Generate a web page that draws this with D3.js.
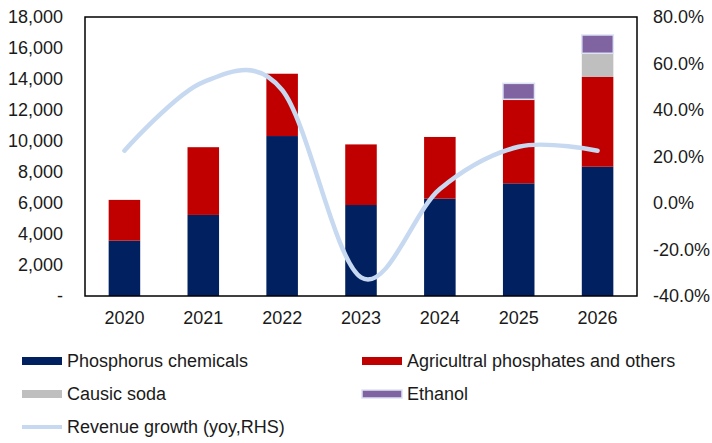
<!DOCTYPE html>
<html>
<head>
<meta charset="utf-8">
<script src="https://cdn.jsdelivr.net/npm/d3@7"></script>
<style>
  body { margin: 0; background: #fff; }
  text { font-family: "Liberation Sans", Arial, sans-serif; fill: #1a1a1a; }
</style>
</head>
<body>
<div id="chart"></div>
<script>
// values
var years = ["2020", "2021", "2022", "2023", "2024", "2025", "2026"];
var phosphorus = [3570, 5230, 10320, 5870, 6280, 7270, 8340];
var agri = [2630, 4370, 4020, 3910, 3980, 5420, 5790];
var causic = [0, 0, 0, 0, 0, 0, 1530];
var ethanol = [0, 0, 0, 0, 0, 1030, 1180];
var growth = [22.5, 52, 48.6, -32, 6, 24.2, 22.5];
var leftTicks = [0, 2000, 4000, 6000, 8000, 10000, 12000, 14000, 16000, 18000];
var rightTicks = [-40, -20, 0, 20, 40, 60, 80];

var seriesNames = ["Phosphorus chemicals", "Agricultral phosphates and others", "Causic soda", "Ethanol"];
var seriesColors = ["#002060", "#c00000", "#bfbfbf", "#8064a2"];
var lineName = "Revenue growth (yoy,RHS)";
var lineColor = "#c6d9f1";

var svgWidth = 712, svgHeight = 443;
var margin = { top: 17, right: 75, bottom: 147, left: 85 };
var width = svgWidth - margin.left - margin.right;
var height = svgHeight - margin.top - margin.bottom;

var svg = d3.select("#chart").append("svg")
  .attr("width", svgWidth)
  .attr("height", svgHeight);

var chartGroup = svg.append("g")
  .attr("transform", `translate(${margin.left}, ${margin.top})`);

// build table for the stack
var table = years.map(function(y, i) {
  return { year: y, p: phosphorus[i], a: agri[i], c: causic[i], e: ethanol[i] };
});
var keys = ["p", "a", "c", "e"];
var stacked = d3.stack().keys(keys)(table);

var x = d3.scaleBand().domain(years).range([0, width]).paddingInner(0.6).paddingOuter(0.3);
var yLeft = d3.scaleLinear().domain([0, 18000]).range([height, 0]);
var yRight = d3.scaleLinear().domain([-40, 80]).range([height, 0]);

// bars
stacked.forEach(function(layer, k) {
  chartGroup.append("g")
    .selectAll("rect")
    .data(layer.filter(d => d[1] - d[0] > 0))
    .enter()
    .append("rect")
    .attr("x", d => x(d.data.year))
    .attr("width", x.bandwidth())
    .attr("y", d => yLeft(d[1]))
    .attr("height", d => yLeft(d[0]) - yLeft(d[1]))
    .attr("fill", seriesColors[k])
    .attr("stroke", k == 3 ? "#dde3f4" : "none")
    .attr("stroke-width", k == 3 ? 1.5 : 0);
});

// growth line
var line = d3.line()
  .x((d, i) => x(years[i]) + x.bandwidth() / 2)
  .y(d => yRight(d))
  .curve(d3.curveCardinal.tension(0));

chartGroup.append("path")
  .datum(growth)
  .attr("d", line)
  .attr("fill", "none")
  .attr("stroke", lineColor)
  .attr("stroke-width", 4.5)
  .attr("stroke-linecap", "round");

// frame
chartGroup.append("rect")
  .attr("x", 0).attr("y", 0)
  .attr("width", width).attr("height", height)
  .attr("fill", "none")
  .attr("stroke", "#000")
  .attr("stroke-width", 1.5);

// left axis
var leftAxis = d3.axisLeft(yLeft).tickValues(leftTicks).tickSize(0).tickPadding(22)
  .tickFormat(d => d === 0 ? "-" : d3.format(",")(d));
chartGroup.append("g").call(leftAxis)
  .call(g => g.select(".domain").remove())
  .selectAll("text").style("font-size", "18px");

// right axis
var rightAxis = d3.axisRight(yRight).tickValues(rightTicks).tickSize(0).tickPadding(16)
  .tickFormat(d => d.toFixed(1) + "%");
chartGroup.append("g").attr("transform", `translate(${width}, 0)`).call(rightAxis)
  .call(g => g.select(".domain").remove())
  .selectAll("text").style("font-size", "18px");

// x axis
var bottomAxis = d3.axisBottom(x).tickSize(0).tickPadding(15);
chartGroup.append("g").attr("transform", `translate(0, ${height})`).call(bottomAxis)
  .call(g => g.select(".domain").remove())
  .selectAll("text").style("font-size", "18px");

// legend
var legendItems = [
  { name: seriesNames[0], color: seriesColors[0], x: 22, y: 361, type: "box" },
  { name: seriesNames[1], color: seriesColors[1], x: 362, y: 361, type: "box" },
  { name: seriesNames[2], color: seriesColors[2], x: 22, y: 394, type: "box" },
  { name: seriesNames[3], color: seriesColors[3], x: 362, y: 394, type: "box" },
  { name: lineName, color: lineColor, x: 22, y: 427, type: "line" }
];
var legend = svg.append("g");
legendItems.forEach(function(it) {
  if (it.type == "box") {
    legend.append("rect")
      .attr("x", it.x).attr("y", it.y - 4)
      .attr("width", 40).attr("height", 8)
      .attr("fill", it.color)
      .attr("stroke", it.name == "Ethanol" ? "#dde3f4" : "none")
      .attr("stroke-width", 1.5);
  } else {
    legend.append("line")
      .attr("x1", it.x).attr("x2", it.x + 40)
      .attr("y1", it.y).attr("y2", it.y)
      .attr("stroke", it.color).attr("stroke-width", 4);
  }
  legend.append("text")
    .attr("x", it.x + 45).attr("y", it.y)
    .attr("dy", "0.35em")
    .style("font-size", "18px")
    .text(it.name);
});
</script>
</body>
</html>
